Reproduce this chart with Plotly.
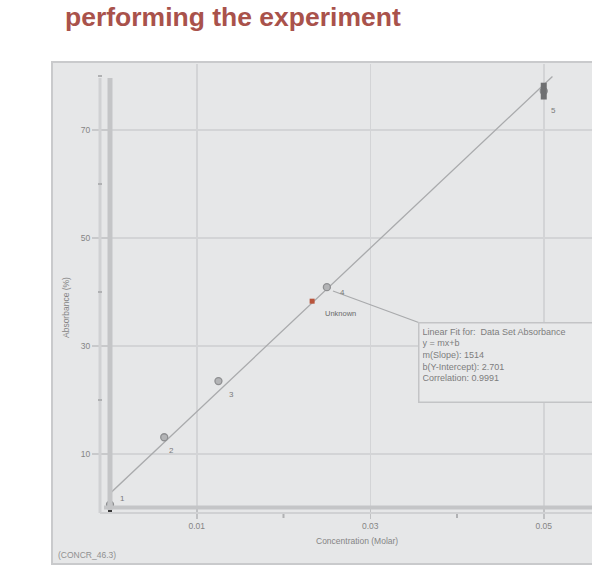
import plotly.graph_objects as go

# ---- data ----
concentration = [0.0, 0.00625, 0.0125, 0.025, 0.05]
absorbance = [0.6, 13.1, 23.5, 40.9, 77.2]
point_labels = ["1", "2", "3", "4", "5"]
label_dx = [12, 7, 13, 16, 10]
label_dy = [6, -13, -13, -5, -19]

unknown_conc = [0.0233]
unknown_abs = [38.3]

fit_slope = 1514
fit_intercept = 2.701
fit_corr = "0.9991"
fit_x = [0.0, 0.051]

y_tickvals = [10, 30, 50, 70]
x_tickvals = [0.01, 0.03, 0.05]
x_ticktext = ["0.01", "0.03", "0.05"]

title_text = "performing the experiment"
x_title = "Concentration (Molar)"
y_title = "Absorbance (%)"
footnote = "(CONCR_46.3)"

# ---- layout geometry (pixels) ----
W, H = 592, 567
L, R, T, B = 110, 0, 64, 59
PW, PH = W - L - R, H - T - B
X_PER_PX = 0.02 / 173.5
Y_PER_PX = 20 / 108.0
x_range = [0, PW * X_PER_PX]
y_range = [0, PH * Y_PER_PX]


def X(px):
    return (px - 110) / PW


def Y(py):
    return (508 - py) / PH


panel = "#e6e7e8"
grid = "#d3d4d6"
txt = "#858585"
font_family = "Liberation Sans, Arial, sans-serif"

fig = go.Figure()

# fit line
fig.add_trace(go.Scatter(
    x=fit_x, y=[fit_slope * v + fit_intercept for v in fit_x],
    mode="lines", line=dict(color="#a9aaac", width=1.3),
    hoverinfo="skip", showlegend=False, cliponaxis=False))

# data points
fig.add_trace(go.Scatter(
    x=concentration, y=absorbance, mode="markers",
    marker=dict(symbol="circle", size=7, color="#b3b4b6",
                line=dict(color="#8e8f91", width=1.3)),
    showlegend=False, cliponaxis=False))

# end points highlighted
fig.add_trace(go.Scatter(
    x=[concentration[0]], y=[absorbance[0]], mode="markers",
    marker=dict(symbol="line-ns", size=13,
                line=dict(color="#3a3a3a", width=4)),
    showlegend=False, cliponaxis=False))
fig.add_trace(go.Scatter(
    x=[concentration[-1]], y=[absorbance[-1]], mode="markers",
    marker=dict(symbol="line-ns", size=12,
                line=dict(color="#6f7072", width=6)),
    showlegend=False, cliponaxis=False))

# unknown
fig.add_trace(go.Scatter(
    x=unknown_conc, y=unknown_abs, mode="markers",
    marker=dict(symbol="square", size=5, color="#b9553c"),
    showlegend=False, cliponaxis=False))

shapes = []
# panel
shapes.append(dict(type="rect", xref="paper", yref="paper",
                   x0=X(52), x1=X(605), y0=Y(564), y1=Y(62),
                   fillcolor=panel, line=dict(color="#c9cacc", width=2),
                   layer="below"))
# axis lines (double)
shapes.append(dict(type="line", xref="paper", yref="paper",
                   x0=X(100), x1=X(100), y0=Y(513), y1=Y(78),
                   line=dict(color="#d0d1d3", width=3)))
shapes.append(dict(type="line", xref="paper", yref="paper",
                   x0=X(100), x1=X(600), y0=Y(513), y1=Y(513),
                   line=dict(color="#d0d1d3", width=2)))
shapes.append(dict(type="line", xref="paper", yref="paper",
                   x0=X(110), x1=X(110), y0=Y(510), y1=Y(78),
                   line=dict(color="#c4c5c7", width=5)))
shapes.append(dict(type="line", xref="paper", yref="paper",
                   x0=X(104), x1=X(600), y0=Y(507.5), y1=Y(507.5),
                   line=dict(color="#c4c5c7", width=4)))
# minor tick marks
for v in [20, 40, 60, 80]:
    yy = v / y_range[1]
    shapes.append(dict(type="line", xref="paper", yref="paper",
                       x0=X(98), x1=X(102), y0=yy, y1=yy,
                       line=dict(color="#b0b1b3", width=2)))
for v in [0.02, 0.04]:
    xx = v / x_range[1]
    shapes.append(dict(type="line", xref="paper", yref="paper",
                       x0=xx, x1=xx, y0=Y(514), y1=Y(518),
                       line=dict(color="#b0b1b3", width=2)))
# connector from fit line to info box
shapes.append(dict(type="line", xref="paper", yref="paper",
                   x0=X(333), y0=Y(291), x1=X(420), y1=Y(323),
                   line=dict(color="#a9aaac", width=1.3)))
shapes.append(dict(type="rect", xref="paper", yref="paper",
                   x0=X(420), x1=X(433), y0=Y(326), y1=Y(322),
                   fillcolor="#c3c4c6", line=dict(width=0)))

annotations = []
annotations.append(dict(
    text="<b>" + title_text + "</b>", xref="paper", yref="paper",
    x=X(63), y=Y(34), xanchor="left", yanchor="bottom", showarrow=False,
    font=dict(family=font_family, size=26.5, color="#a9524b")))
for cx, cy, lab, dx, dy in zip(concentration, absorbance, point_labels,
                               label_dx, label_dy):
    annotations.append(dict(
        text=lab, x=cx, y=cy, xref="x", yref="y", showarrow=False,
        xshift=dx, yshift=dy, font=dict(family=font_family, size=8, color="#7a7a7a")))
annotations.append(dict(
    text="Unknown", x=unknown_conc[0], y=unknown_abs[0], xref="x", yref="y",
    showarrow=False, xshift=28, yshift=-12,
    font=dict(family=font_family, size=7.5, color="#6a6a6a")))
fit_text = ("Linear Fit for:  Data Set Absorbance<br>y = mx+b<br>"
            f"m(Slope): {fit_slope}<br>b(Y-Intercept): {fit_intercept}<br>"
            f"Correlation: {fit_corr}")
annotations.append(dict(
    text=fit_text, xref="paper", yref="paper", x=X(418), y=Y(322),
    xanchor="left", yanchor="top", align="left", showarrow=False,
    width=240, height=72, valign="top",
    bgcolor="#e8e9ea", bordercolor="#c3c4c6", borderwidth=1.5, borderpad=3,
    font=dict(family=font_family, size=9, color="#7d7d7d")))
annotations.append(dict(
    text=x_title, xref="paper", yref="paper", x=X(357), y=Y(541),
    xanchor="center", yanchor="middle", showarrow=False,
    font=dict(family=font_family, size=8.5, color=txt)))
annotations.append(dict(
    text=y_title, xref="paper", yref="paper", x=X(66), y=Y(308),
    xanchor="center", yanchor="middle", showarrow=False, textangle=-90,
    font=dict(family=font_family, size=8.5, color=txt)))
annotations.append(dict(
    text=footnote, xref="paper", yref="paper", x=X(56), y=Y(555),
    xanchor="left", yanchor="middle", showarrow=False,
    font=dict(family=font_family, size=8.5, color="#909090")))

fig.update_layout(
    width=W, height=H, autosize=False,
    margin=dict(l=L, r=R, t=T, b=B, pad=0),
    paper_bgcolor="white", plot_bgcolor=panel,
    shapes=shapes, annotations=annotations,
    xaxis=dict(range=x_range, tickvals=x_tickvals, ticktext=x_ticktext,
               showgrid=True, gridcolor=grid, gridwidth=1.5, zeroline=False,
               showline=False, ticks="outside", ticklen=10, tickwidth=1.5,
               tickcolor="#c0c1c3",
               tickfont=dict(family=font_family, size=8.5, color=txt)),
    yaxis=dict(range=y_range, tickvals=y_tickvals,
               showgrid=True, gridcolor=grid, gridwidth=1.5, zeroline=False,
               showline=False, ticks="outside", ticklen=17, tickwidth=1.5,
               tickcolor="#c8c9cb",
               tickfont=dict(family=font_family, size=8.5, color=txt)),
)

fig.write_html("out.html",
               config={"displayModeBar": False, "staticPlot": True},
               post_script="document.body.style.margin='0px';"
                           "document.body.style.overflow='hidden';")
